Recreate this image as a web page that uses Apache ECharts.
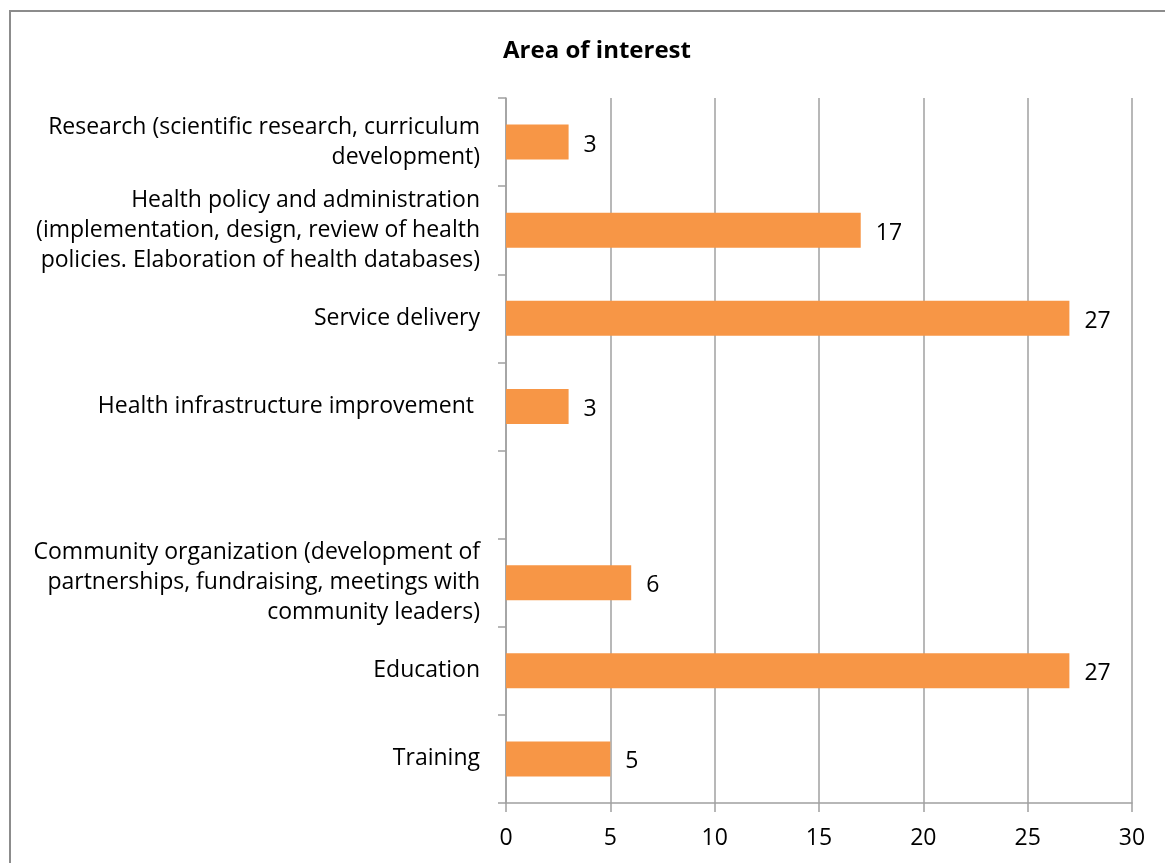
<!DOCTYPE html>
<html>
<head>
<meta charset="utf-8">
<script src="https://cdn.jsdelivr.net/npm/echarts@6/dist/echarts.min.js"></script>
<style>
  html, body { margin: 0; padding: 0; background: #fff; overflow: hidden; }
  #frame {
    position: absolute; left: 9px; top: 10px; width: 1200px; height: 900px;
    border: 2px solid #8c8c8c; box-sizing: border-box;
  }
  #chart { position: absolute; left: 0; top: 0; width: 1165px; height: 863px; }
</style>
</head>
<body>
<div id="frame"></div>
<div id="chart"></div>
<script>
  // 数据
  const categories = [
    'Research (scientific research, curriculum\ndevelopment)',
    'Health policy and administration\n(implementation, design, review of health\npolicies. Elaboration of health databases)',
    'Service delivery',
    'Health infrastructure improvement ',
    '',
    'Community organization (development of\npartnerships, fundraising, meetings with\ncommunity leaders)',
    'Education',
    'Training'
  ]
  const values = [3, 17, 27, 3, null, 6, 27, 5]
  const xTicks = { min: 0, max: 30, interval: 5 }

  const myChart = echarts.init(document.getElementById('chart'), null, { renderer: 'canvas' })
  const fontFamily = '"Open Sans", sans-serif'

  const option = {
    animation: false,
    backgroundColor: 'transparent',
    title: {
      text: 'Area of interest',
      left: 592,
      top: 34,
      textAlign: 'center',
      textStyle: { fontFamily: fontFamily, fontSize: 24, fontWeight: 'bold', color: '#000' }
    },
    grid: { left: 506, right: 33, top: 98, bottom: 60, containLabel: false },
    xAxis: {
      type: 'value',
      min: xTicks.min,
      max: xTicks.max,
      interval: xTicks.interval,
      axisLine: { show: true, lineStyle: { color: '#a0a0a0', width: 1.5 } },
      axisTick: { show: true, length: 9, lineStyle: { color: '#a0a0a0', width: 1.5 } },
      splitLine: { show: true, lineStyle: { color: '#a0a0a0', width: 1.5 } },
      axisLabel: { color: '#000', fontFamily: fontFamily, fontSize: 23, margin: 24 }
    },
    yAxis: {
      type: 'category',
      inverse: true,
      data: categories,
      axisLine: { show: true, lineStyle: { color: '#a0a0a0', width: 1.5 } },
      axisTick: { show: true, length: 8, lineStyle: { color: '#a0a0a0', width: 1.5 } },
      axisLabel: {
        color: '#000', fontFamily: fontFamily, fontSize: 23, lineHeight: 30,
        margin: 26, align: 'right', interval: 0, padding: [6, 0, 0, 0]
      }
    },
    series: [{
      type: 'bar',
      data: values,
      barWidth: 35,
      itemStyle: { color: '#F79646' },
      label: {
        show: true, position: 'right', distance: 15, offset: [0, 3],
        color: '#000', fontFamily: fontFamily, fontSize: 23
      }
    }]
  }
  myChart.setOption(option)
</script>
</body>
</html>
